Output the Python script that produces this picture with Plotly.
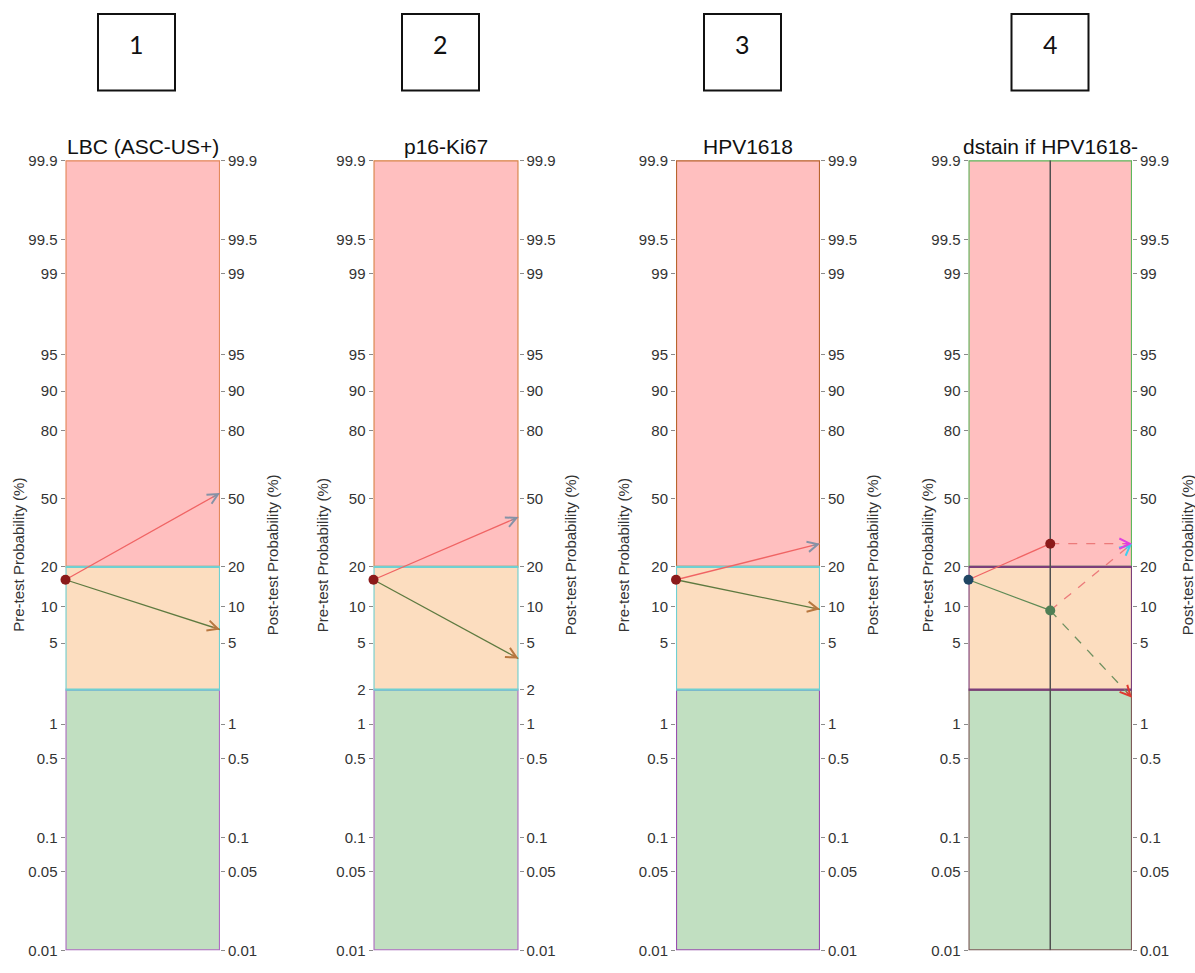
import numpy as np
import plotly.graph_objects as go

W, H = 1195, 973

# ---- data -------------------------------------------------------------
panel_titles = ["LBC (ASC-US+)", "p16-Ki67", "HPV1618", "dstain if HPV1618-"]
panel_numbers = ["1", "2", "3", "4"]

pre_test = [16.1, 16.1, 16.1, 16.1]          # pre-test probability (%)
post_pos = [53.0, 40.8, 28.6]                # post-test prob. after a positive result (%)
post_neg = [6.5, 3.7, 9.5]                   # post-test prob. after a negative result (%)

# panel 4: HPV1618 first, dual stain only when HPV1618 is negative
step1_pos = 28.6
step1_neg = 9.3
step2_pos_kept = 28.6
step2_neg_then_pos = 28.6
step2_neg_then_neg = 1.7

tick_values = [99.9, 99.5, 99, 95, 90, 80, 50, 20, 10, 5, 1, 0.5, 0.1, 0.05, 0.01]
tick_values_p2 = [99.9, 99.5, 99, 95, 90, 80, 50, 20, 10, 5, 2, 1, 0.5, 0.1, 0.05, 0.01]

band_high = (20, 99.9)
band_mid = (2, 20)
band_low = (0.01, 2)

# ---- layout geometry (pixels) ----------------------------------------
panel_px = [(65.5, 220), (373.5, 518.5), (676, 820), (968.5, 1132)]
top_px, bottom_px = 154, 958
left_title_px = [18.5, 322, 623, 927]
right_title_px = [272, 570, 872, 1187]
box_center_px = [136.5, 440.5, 742.5, 1050]
box_w, box_top, box_bot = 77, 5, 83

FONT = "Liberation Sans, Arial, sans-serif"
TXT = "#333333"


def logit(p):
    p = np.asarray(p, dtype=float) / 100.0
    return np.log(p / (1.0 - p))


def px_x(v):
    return v / W


def px_y(v):
    return 1 - v / H


def ref(letter, n):
    return letter if n == 1 else f"{letter}{n}"


def key(letter, n):
    return f"{letter}axis" if n == 1 else f"{letter}axis{n}"


y_lo, y_hi = float(logit(0.01)), float(logit(99.9))
px_per_logit = (bottom_px - top_px) / (y_hi - y_lo)

fig = go.Figure()
shapes, annotations = [], []

band_styles = [
    # (fill high, line high, fill mid, line mid, fill low, line low)
    ("#FFBFBF", "#E38A5C", "#FCDDBF", "#6FD0D2", "#C1DFC1", "#B16CC4"),
    ("#FFBFBF", "#D8874A", "#FCDDBF", "#6FD0D2", "#C1DFC1", "#B16CC4"),
    ("#FFBFBF", "#B8652E", "#FCDDBF", "#6FD0D2", "#C1DFC1", "#9A4FB0"),
    ("#FFBFBF", "#5CB85C", "#FCDDBF", "#7B3F7B", "#C1DFC1", "#7E5A5A"),
]

POS_C, NEG_C = "#F06464", "#5E7A40"


def arrow_head(xr, yr, width_px, x0, y0, x1, y1, color):
    """Open arrow head at (x1, y1), pointing along the segment from (x0, y0)."""
    dx = (x1 - x0) * width_px
    dy = -(y1 - y0) * px_per_logit
    n = float(np.hypot(dx, dy))
    L = 9.0
    annotations.append(dict(
        x=x1, y=y1, xref=xr, yref=yr,
        ax=-dx / n * L, ay=-dy / n * L,
        showarrow=True, arrowhead=5, arrowsize=1.7, arrowwidth=1.2,
        arrowcolor=color, text="", font=dict(size=1), borderpad=0, standoff=0,
    ))


def segment(xr, yr, x0, y0, x1, y1, color, dash="solid"):
    fig.add_trace(go.Scatter(
        x=[x0, x1], y=[y0, y1], xaxis=xr, yaxis=yr, mode="lines",
        line=dict(color=color, width=1.3, dash=dash),
        showlegend=False, hoverinfo="skip",
    ))


def dot(xr, yr, x, y, color):
    fig.add_trace(go.Scatter(
        x=[x], y=[y], xaxis=xr, yaxis=yr, mode="markers",
        marker=dict(color=color, size=10), cliponaxis=False,
        showlegend=False, hoverinfo="skip",
    ))


for i in range(4):
    xn, yln, yrn = i + 1, 2 * i + 1, 2 * i + 2
    xr, yl, yr = ref("x", xn), ref("y", yln), ref("y", yrn)
    x0p, x1p = panel_px[i]
    wpx = x1p - x0p
    xdom = [px_x(x0p), px_x(x1p)]
    ydom = [px_y(bottom_px), px_y(top_px)]

    ticks = tick_values_p2 if i == 1 else tick_values
    tv = [float(logit(t)) for t in ticks]
    tt = [f"{t:g}" for t in ticks]

    fig.layout[key("x", xn)] = dict(domain=xdom, range=[0, 1], visible=False,
                                    anchor=yl, fixedrange=True)
    yaxis_common = dict(range=[y_lo, y_hi], tickvals=tv, ticktext=tt,
                        ticks="outside", ticklen=4, tickwidth=1, tickcolor="#8a8a8a",
                        showgrid=False, zeroline=False, showline=False,
                        tickfont=dict(family=FONT, size=15, color=TXT), fixedrange=True)
    fig.layout[key("y", yln)] = dict(domain=ydom, anchor=xr, side="left", **yaxis_common)
    fig.layout[key("y", yrn)] = dict(overlaying=yl, anchor=xr, side="right", **yaxis_common)

    # keep the right-hand axis bound to this panel
    fig.add_trace(go.Scatter(x=[None], y=[None], xaxis=xr, yaxis=yr,
                             showlegend=False, hoverinfo="skip"))

    # risk bands: low, high, then intermediate on top so its outline wins
    fh, lh, fm, lm, fl, ll = band_styles[i]
    for (lo, hi), fc, lc in [(band_low, fl, ll), (band_high, fh, lh), (band_mid, fm, lm)]:
        shapes.append(dict(type="rect", xref=xr, yref=yl, x0=0, x1=1,
                           y0=float(logit(lo)), y1=float(logit(hi)),
                           fillcolor=fc, line=dict(color=lc, width=2.2), layer="below"))

    pre = float(logit(pre_test[i]))
    if i < 3:
        pos = float(logit(post_pos[i]))
        neg = float(logit(post_neg[i]))
        segment(xr, yl, 0, pre, 1, pos, POS_C)
        segment(xr, yl, 0, pre, 1, neg, NEG_C)
        arrow_head(xr, yl, wpx, 0, pre, 1, pos, "#8592A6")
        arrow_head(xr, yl, wpx, 0, pre, 1, neg, "#B8773F")
        dot(xr, yl, 0, pre, "#8B1A1A")
    else:
        shapes.append(dict(type="line", xref=xr, yref=yl, x0=0.5, x1=0.5,
                           y0=y_lo, y1=y_hi, line=dict(color="#505050", width=1.5),
                           layer="below"))
        s1p, s1n = float(logit(step1_pos)), float(logit(step1_neg))
        s2k = float(logit(step2_pos_kept))
        s2p = float(logit(step2_neg_then_pos))
        s2n = float(logit(step2_neg_then_neg))
        segment(xr, yl, 0, pre, 0.5, s1p, POS_C)
        segment(xr, yl, 0, pre, 0.5, s1n, "#5E8A55")
        segment(xr, yl, 0.5, s1p, 1, s2k, "#EC7A7A", "dash")
        segment(xr, yl, 0.5, s1n, 1, s2p, "#EC7A7A", "dash")
        segment(xr, yl, 0.5, s1n, 1, s2n, "#6E9060", "dash")
        arrow_head(xr, yl, wpx, 0.5, s1n, 1, s2p, "#3CCFF0")
        arrow_head(xr, yl, wpx, 0.5, s1p, 1, s2k, "#E040E0")
        arrow_head(xr, yl, wpx, 0.5, s1n, 1, s2n, "#E03A30")
        dot(xr, yl, 0, pre, "#1F4563")
        dot(xr, yl, 0.5, s1p, "#8B1A1A")
        dot(xr, yl, 0.5, s1n, "#4F7F55")

    cx = (x0p + x1p) / 2
    annotations.append(dict(text=panel_titles[i], xref="paper", yref="paper",
                            x=px_x(cx), y=px_y(140), xanchor="center", yanchor="middle",
                            showarrow=False, font=dict(family=FONT, size=21, color="#111111")))
    annotations.append(dict(text="Pre-test Probability (%)", xref="paper", yref="paper",
                            x=px_x(left_title_px[i]), y=px_y((top_px + bottom_px) / 2),
                            xanchor="center", yanchor="middle", textangle=-90,
                            showarrow=False, font=dict(family=FONT, size=15, color=TXT)))
    annotations.append(dict(text="Post-test Probability (%)", xref="paper", yref="paper",
                            x=px_x(right_title_px[i]), y=px_y((top_px + bottom_px) / 2),
                            xanchor="center", yanchor="middle", textangle=-90,
                            showarrow=False, font=dict(family=FONT, size=15, color=TXT)))

    # numbered box above each panel
    bc = box_center_px[i]
    shapes.append(dict(type="rect", xref="paper", yref="paper",
                       x0=px_x(bc - box_w / 2), x1=px_x(bc + box_w / 2),
                       y0=px_y(box_bot), y1=px_y(box_top),
                       line=dict(color="#111111", width=2), fillcolor="rgba(0,0,0,0)"))
    annotations.append(dict(text=panel_numbers[i], xref="paper", yref="paper",
                            x=px_x(bc), y=px_y(36), xanchor="center", yanchor="middle",
                            showarrow=False, font=dict(family="Lato, sans-serif", size=25,
                                                       color="#111111")))

fig.update_layout(
    width=W, height=H, margin=dict(l=0, r=0, t=0, b=0),
    paper_bgcolor="white", plot_bgcolor="white",
    shapes=shapes, annotations=annotations, showlegend=False,
)

fig.write_html("out.html")
